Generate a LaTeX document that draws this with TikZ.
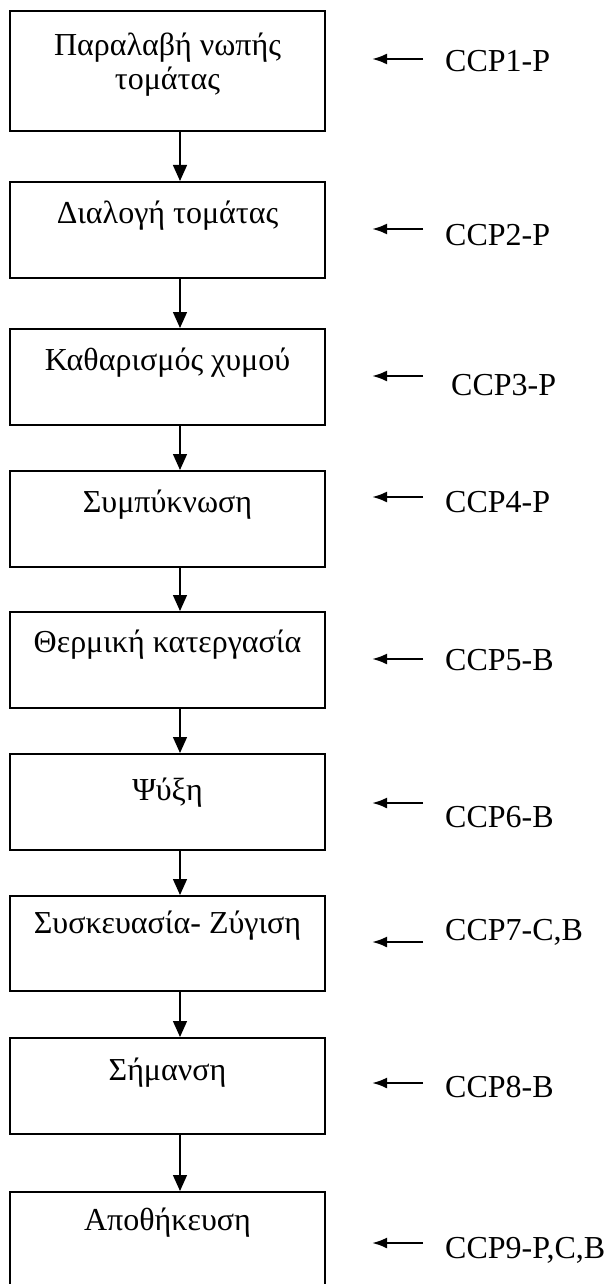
\documentclass[tikz,border=0pt]{standalone}
\usepackage{fontspec}
\setmainfont{Liberation Serif}
\usetikzlibrary{arrows.meta}

\begin{document}
\begin{tikzpicture}[x=1pt,y=-1pt,
		stepbox/.style={draw,line width=1.6pt,minimum width=315pt,minimum height=96pt,anchor=north,inner sep=0pt},
		steptext/.style={font=\fontsize{32}{36}\selectfont,anchor=base,inner sep=0pt,align=center},
		ccplabel/.style={font=\fontsize{32}{36}\selectfont,anchor=base west,inner sep=0pt},
		flowarrow/.style={line width=1.4pt,-{Triangle[length=16pt,width=14pt]}},
		ccparrow/.style={line width=2.4pt,-{Latex[length=15pt,width=11pt]}}]
				%%%%% START %%%%%
				\useasboundingbox (0,0) rectangle (612,1284);
				
				% steps
				\node[stepbox,minimum height=120pt] (b1) at (167.5,10) {};
				\node[stepbox] (b2) at (167.5,181) {};
				\node[stepbox] (b3) at (167.5,328) {};
				\node[stepbox] (b4) at (167.5,470) {};
				\node[stepbox] (b5) at (167.5,611) {};
				\node[stepbox] (b6) at (167.5,753) {};
				\node[stepbox,minimum height=95pt] (b7) at (167.5,895) {};
				\node[stepbox] (b8) at (167.5,1037) {};
				\node[stepbox] (b9) at (167.5,1191) {};
				
				\node[steptext] (t1a) at (167.5,56) {Παραλαβή νωπής};
				\node[steptext] (t1b) at (167.5,90) {τομάτας};
				\node[steptext] (t2) at (167.5,223) {Διαλογή τομάτας};
				\node[steptext] (t3) at (167.5,370) {Καθαρισμός χυμού};
				\node[steptext] (t4) at (167.5,512) {Συμπύκνωση};
				\node[steptext] (t5) at (167.5,652) {Θερμική κατεργασία};
				\node[steptext] (t6) at (167.5,800) {Ψύξη};
				\node[steptext] (t7) at (167.5,933) {Συσκευασία- Ζύγιση};
				\node[steptext] (t8) at (167.5,1080) {Σήμανση};
				\node[steptext] (t9) at (167.5,1230) {Αποθήκευση};
				
				% flow
				\draw[flowarrow] ([xshift=12.5pt]b1.south) -- ([xshift=12.5pt]b2.north);
				\draw[flowarrow] ([xshift=12.5pt]b2.south) -- ([xshift=12.5pt]b3.north);
				\draw[flowarrow] ([xshift=12.5pt]b3.south) -- ([xshift=12.5pt]b4.north);
				\draw[flowarrow] ([xshift=12.5pt]b4.south) -- ([xshift=12.5pt]b5.north);
				\draw[flowarrow] ([xshift=12.5pt]b5.south) -- ([xshift=12.5pt]b6.north);
				\draw[flowarrow] ([xshift=12.5pt]b6.south) -- ([xshift=12.5pt]b7.north);
				\draw[flowarrow] ([xshift=12.5pt]b7.south) -- ([xshift=12.5pt]b8.north);
				\draw[flowarrow] ([xshift=12.5pt]b8.south) -- ([xshift=12.5pt]b9.north);
				
				% critical control points
				\node[ccplabel] (l1) at (445,72) {CCP1-P};
				\node[ccplabel] (l2) at (445,245) {CCP2-P};
				\node[ccplabel] (l3) at (451,395) {CCP3-P};
				\node[ccplabel] (l4) at (445,512) {CCP4-P};
				\node[ccplabel] (l5) at (445,670) {CCP5-B};
				\node[ccplabel] (l6) at (445,827) {CCP6-B};
				\node[ccplabel] (l7) at (445,940) {CCP7-C,B};
				\node[ccplabel] (l8) at (445,1097) {CCP8-B};
				\node[ccplabel] (l9) at (445,1258) {CCP9-P,C,B};
				
				\coordinate (s1) at (423,59);   \coordinate (e1) at (372,59);
				\coordinate (s2) at (423,229);  \coordinate (e2) at (372,229);
				\coordinate (s3) at (423,376);  \coordinate (e3) at (372,376);
				\coordinate (s4) at (423,497);  \coordinate (e4) at (372,497);
				\coordinate (s5) at (423,659);  \coordinate (e5) at (372,659);
				\coordinate (s6) at (423,803);  \coordinate (e6) at (372,803);
				\coordinate (s7) at (423,942);  \coordinate (e7) at (372,942);
				\coordinate (s8) at (423,1083); \coordinate (e8) at (372,1083);
				\coordinate (s9) at (423,1243); \coordinate (e9) at (372,1243);
				
				\draw[ccparrow] (s1) -- (e1);
				\draw[ccparrow] (s2) -- (e2);
				\draw[ccparrow] (s3) -- (e3);
				\draw[ccparrow] (s4) -- (e4);
				\draw[ccparrow] (s5) -- (e5);
				\draw[ccparrow] (s6) -- (e6);
				\draw[ccparrow] (s7) -- (e7);
				\draw[ccparrow] (s8) -- (e8);
				\draw[ccparrow] (s9) -- (e9);
				%%%%% END %%%%%
\end{tikzpicture}
\end{document}
